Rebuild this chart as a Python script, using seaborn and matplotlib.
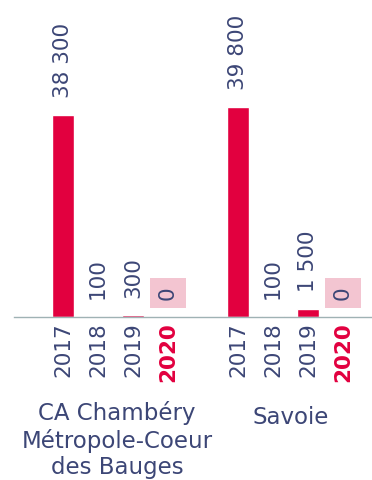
import matplotlib
matplotlib.use("Agg")
import matplotlib.pyplot as plt
import matplotlib.transforms as mtransforms
import seaborn as sns
import pandas as pd

# Data
territories = ["CA Chambéry\nMétropole-Coeur\ndes Bauges", "Savoie"]
years = ["2017", "2018", "2019", "2020"]
values_ca = [38300, 100, 300, 0]
values_savoie = [39800, 100, 1500, 0]
value_labels_ca = ["38 300", "100", "300", "0"]
value_labels_savoie = ["39 800", "100", "1 500", "0"]

BAR = "#e2003f"
NAVY = "#3c4676"
PINK_BOX = "#f3c5d1"
AXIS = "#9fb2b4"

rows = []
for g, (vals, labs) in enumerate([(values_ca, value_labels_ca),
                                  (values_savoie, value_labels_savoie)]):
    for i, (yr, v, lab) in enumerate(zip(years, vals, labs)):
        rows.append({"group": g, "year": yr, "pos": g * (len(years) + 1) + i,
                     "value": v, "label": lab})
df = pd.DataFrame(rows)

sns.set_theme(style="white")
plt.rcParams["font.family"] = ["DejaVu Sans"]

fig = plt.figure(figsize=(3.72, 4.80), dpi=100)
ax = fig.add_axes([14 / 372, 1 - 317 / 480, 358 / 372, 317 / 480])

sns.barplot(data=df, x="pos", y="value", native_scale=True, width=0.63,
            color=BAR, saturation=1, ax=ax)

ax.set_xlim(-1.4, 8.83)
ax.set_ylim(0, 60100)

for s in ["top", "right", "left"]:
    ax.spines[s].set_visible(False)
ax.spines["bottom"].set_color(AXIS)
ax.spines["bottom"].set_linewidth(1.0)
ax.set_yticks([])
ax.set_ylabel("")
ax.set_xlabel("")

ax.set_xticks(df["pos"].tolist())
ax.set_xticklabels(df["year"].tolist(), rotation=90, fontsize=15.5, color=NAVY)
ax.tick_params(axis="x", length=0, pad=4)
for t, yr in zip(ax.get_xticklabels(), df["year"]):
    if yr == "2020":
        t.set_color(BAR)
        t.set_fontweight("bold")

# Value labels above bars
for _, r in df.iterrows():
    kw = {}
    if r["year"] == "2020":
        kw["bbox"] = dict(boxstyle="square,pad=0.38", fc=PINK_BOX, ec="none")
    ax.annotate(r["label"], (r["pos"], r["value"]), xytext=(0, 17 / 1.389),
                textcoords="offset points", rotation=90, ha="center",
                va="bottom", fontsize=15.5, color=NAVY, annotation_clip=False,
                **kw)

# Territory names under each group
trans = mtransforms.blended_transform_factory(ax.transData, fig.transFigure)
ax.text(1.55, 1 - 401 / 480, territories[0], transform=trans, ha="center",
        va="top", fontsize=16.5, color=NAVY, linespacing=1.2)
ax.text(6.5, 1 - 406 / 480, territories[1], transform=trans, ha="center",
        va="top", fontsize=16.5, color=NAVY)

fig.savefig("out.png", dpi=100)
